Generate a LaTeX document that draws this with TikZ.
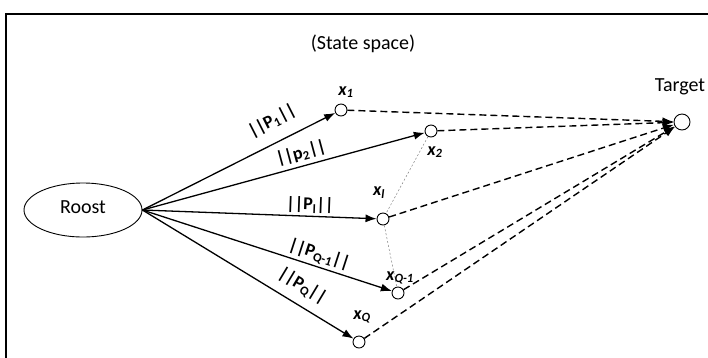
\documentclass[tikz,border=0pt]{standalone}
\usepackage{fontspec}
\setmainfont{Carlito}
\usetikzlibrary{arrows.meta,shapes.geometric}
\tikzset{
  state/.style={circle,draw,line width=0.9pt,minimum size=12pt,inner sep=0pt,fill=white},
  solidarrow/.style={line width=1.3pt,-{Latex[length=11pt,width=8pt]}},
  dasharrow/.style={line width=1.4pt,dash pattern=on 7pt off 4pt,-{Latex[length=11pt,width=8pt]}},
  thindot/.style={line width=0.5pt,gray,dash pattern=on 2pt off 2pt},
  plabel/.style={font=\fontsize{18}{20}\selectfont\bfseries,inner sep=0pt},
  xlabel/.style={font=\fontsize{18}{20}\selectfont\bfseries\itshape,inner sep=0pt},
  bigtext/.style={font=\fontsize{20}{22}\selectfont,inner sep=0pt}
}
\begin{document}
\begin{tikzpicture}[x=1pt,y=-1pt]
\useasboundingbox (0,0) rectangle (708,357);
\begin{scope}
\clip (0,0) rectangle (708,357);
\draw[line width=1.2pt] (6,14) rectangle (730,380);
\end{scope}
\node[bigtext] (title) at (363,44) {(State space)};
\node[ellipse,draw,line width=0.9pt,minimum width=118pt,minimum height=54pt,inner sep=0pt] (roost) at (83,210) {};
\node[bigtext] (roosttxt) at (83,207) {Roost};
\node[state] (x1) at (341,110) {};
\node[state] (x2) at (431,131) {};
\node[state] (xl) at (383,219) {};
\node[state] (xq1) at (398,293) {};
\node[state] (xq) at (359,342) {};
\node[circle,draw,line width=0.9pt,minimum size=16pt,inner sep=0pt] (target) at (682,122) {};
\node[bigtext] (targettxt) at (680,87) {Target};

\draw[thindot] (x2) -- (xl);
\draw[thindot] (xl) -- (xq1);

\draw[solidarrow] (roost.east) -- (x1);
\draw[solidarrow] (roost.east) -- (x2);
\draw[solidarrow] (roost.east) -- (xl);
\draw[solidarrow] (roost.east) -- (xq1);
\draw[solidarrow] (roost.east) -- (xq);

\draw[dasharrow] (x1) -- (target);
\draw[dasharrow] (x2) -- (target);
\draw[dasharrow] (xl) -- (target);
\draw[dasharrow] (xq1) -- (target);
\draw[dasharrow] (xq) -- (target);

\node[plabel,rotate=27] (p1) at (272,121) {||P\textsubscript{1}||};
\node[plabel,rotate=15] (p2) at (301,153) {||p\textsubscript{2}||};
\node[plabel,rotate=-2] (pl) at (310,205) {||P\textsubscript{l}||};
\node[plabel,rotate=-18] (pq1) at (319,255) {||P\textsubscript{Q-1}||};
\node[plabel,rotate=-31] (pq) at (302,286) {||P\textsubscript{Q}||};

\node[xlabel] (lx1) at (346,92) {x\textsubscript{1}};
\node[xlabel] (lx2) at (435,152) {x\textsubscript{2}};
\node[xlabel] (lxl) at (379,193) {x\textsubscript{l}};
\node[xlabel] (lxq1) at (400,278) {x\textsubscript{Q-1}};
\node[xlabel] (lxq) at (362,317) {x\textsubscript{Q}};
\end{tikzpicture}
\end{document}
